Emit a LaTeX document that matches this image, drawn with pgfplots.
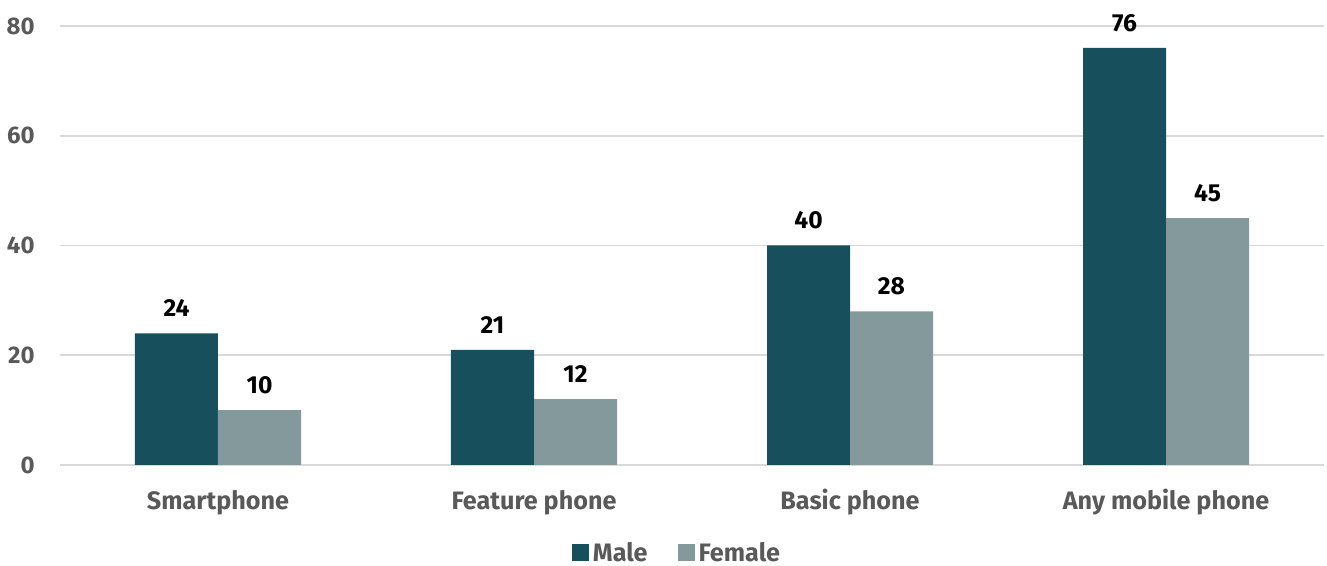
\documentclass[border=0pt]{standalone}
\usepackage{pgfplots}
\pgfplotsset{compat=1.18}
\usepackage{fontspec}
\setmainfont{Fira Sans}
\usetikzlibrary{calc}
\definecolor{male}{HTML}{174F5C}
\definecolor{female}{HTML}{84999C}
\definecolor{ticktxt}{HTML}{595959}
\definecolor{gridc}{HTML}{D9D9D9}
\begin{document}
\begin{tikzpicture}
\begin{axis}[
  scale only axis,
  width=632pt, height=219.5pt,
  xmin=-0.5, xmax=3.5,
  ymin=0, ymax=80,
  ytick={0,20,40,60,80},
  xtick={0,1,2,3},
  xticklabels={Smartphone,Feature phone,Basic phone,Any mobile phone},
  /pgf/number format/assume math mode=true,
  ybar=0pt,
  bar width=41.5pt,
  axis line style={draw=none},
  major tick style={draw=none},
  ymajorgrids,
  grid style={gridc, line width=0.8pt},
  font=\fontsize{12}{14}\selectfont\bfseries,
  yticklabel style={text=ticktxt, inner sep=0pt, anchor=east, xshift=-12.5pt},
  xticklabel style={text=ticktxt, inner sep=0pt, anchor=north, yshift=-9pt, text height=9pt, font=\fontsize{12.6}{14}\selectfont\bfseries},
  nodes near coords,
  nodes near coords style={text=black, inner sep=0pt, anchor=south, yshift=8pt, font=\fontsize{12.3}{14}\selectfont\bfseries},
  legend columns=2,
  legend style={at={(0.5,0)}, anchor=center, yshift=-44pt, xshift=-7pt, draw=none, text=ticktxt,
    font=\fontsize{12.6}{14}\selectfont\bfseries,
    /tikz/every even column/.append style={column sep=13pt}},
  legend image code/.code={\fill[#1] (0pt,-4.25pt) rectangle (8.5pt,4.25pt);},
]
\addplot[fill=male, draw=none] coordinates {(0,24) (1,21) (2,40) (3,76)};
\addplot[fill=female, draw=none] coordinates {(0,10) (1,12) (2,28) (3,45)};
\legend{Male,Female}
\coordinate (ll) at (rel axis cs:0,0);
\coordinate (ur) at (rel axis cs:1,1);
\end{axis}
\pgfresetboundingbox
\path (ll) ++(-30pt,-50.5pt) coordinate (bl);
\path (ur) ++(1.5pt,13pt) coordinate (tr);
\useasboundingbox (bl) rectangle (tr);
\end{tikzpicture}
\end{document}
